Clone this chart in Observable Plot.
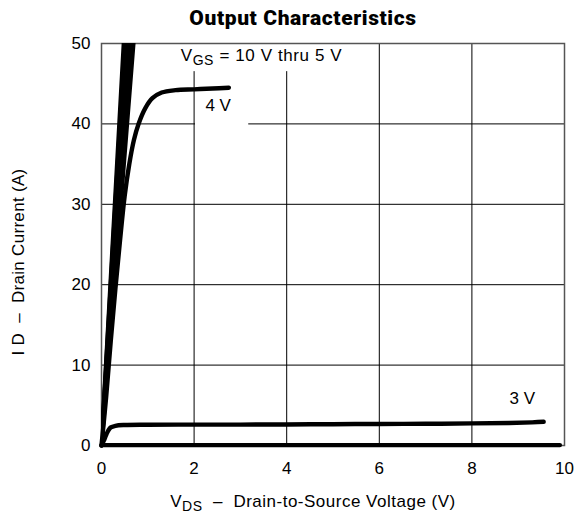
<!DOCTYPE html>
<html><head>
<meta charset="utf-8">
<script src="https://cdn.jsdelivr.net/npm/d3@7"></script>
<script src="https://cdn.jsdelivr.net/npm/@observablehq/plot@0.6"></script>
<style>
body{margin:0;background:#fff;}
#c svg{display:block;}
</style>
</head><body><div id="c"></div>
<script>
// Curves for VGS = 10 V ... 5 V (steep ohmic lines): drain voltage reached at ID = 50 A
const steepGates = ["10 V","9 V","8 V","7 V","6 V","5 V"];
const steepVAt50A = [0.48, 0.50, 0.53, 0.57, 0.62, 0.69];
const steepI = [0, 50];

// VGS = 4 V
const v4V = [0, 0.1, 0.2, 0.3, 0.4, 0.5, 0.6, 0.7, 0.8, 0.95, 1.1, 1.3, 1.6, 2.0, 2.4, 2.75];
const i4V = [0, 6, 13, 19.5, 25.5, 31, 35, 38, 40, 42, 43.2, 43.9, 44.2, 44.3, 44.4, 44.5];

// VGS = 3 V
const v3V = [0, 0.05, 0.1, 0.15, 0.2, 0.3, 0.5, 1, 2, 3, 4, 5, 6, 7, 8, 8.8, 9.3, 9.55];
const i3V = [0, 0.6, 1.3, 1.9, 2.25, 2.45, 2.55, 2.58, 2.6, 2.6, 2.62, 2.65, 2.68, 2.7, 2.75, 2.8, 2.88, 2.95];

// VGS below 3 V (essentially zero current)
const vLow = [0, 9.9];
const iLow = [0.05, 0.05];

const xTicks = [0, 2, 4, 6, 8, 10];
const yTicks = [0, 10, 20, 30, 40, 50];
const gridX = [2, 4, 6, 8];
const gridY = [10, 20, 30, 40];

// curve labels
const labelText = ["VGS = 10 V thru 5 V", "4 V", "3 V"];
const labelV = [1.71, 2.52, 9.09];
const labelI = [48.5, 42.3, 5.85];

// white boxes behind annotations (data coords)
const boxes = [
  {x1: 1.62, x2: 5.6, y1: 46.5, y2: 50},
  {x1: 2.03, x2: 3.18, y1: 39.0, y2: 43.6}
];

const steepRows = [];
steepGates.forEach((g, k) => {
  steepRows.push({curve: g, v: 0, i: steepI[0]});
  steepRows.push({curve: g, v: steepVAt50A[k], i: steepI[1]});
});
const rows = [];
v4V.forEach((v, k) => rows.push({curve: "4 V", v, i: i4V[k]}));
v3V.forEach((v, k) => rows.push({curve: "3 V", v, i: i3V[k]}));
vLow.forEach((v, k) => rows.push({curve: "low", v, i: iLow[k]}));

const labels = labelText.map((t, k) => ({t, v: labelV[k], i: labelI[k]}));

const font = "'Liberation Sans', Arial, sans-serif";

const chart = Plot.plot({
  width: 576,
  height: 521,
  marginTop: 43,
  marginBottom: 76,
  marginLeft: 101,
  marginRight: 12,
  style: {fontFamily: font, fontSize: "16px", color: "#000", background: "#fff", overflow: "visible"},
  x: {domain: [0, 10]},
  y: {domain: [0, 50]},
  marks: [
    Plot.gridX(gridX, {stroke: "#000", strokeOpacity: 1, strokeWidth: 1}),
    Plot.gridY(gridY, {stroke: "#000", strokeOpacity: 1, strokeWidth: 1}),
    Plot.rect(boxes, {x1: "x1", x2: "x2", y1: "y1", y2: "y2", fill: "#fff"}),
    Plot.frame({stroke: "#555", strokeWidth: 1.5}),
    Plot.line(steepRows, {x: "v", y: "i", z: "curve", stroke: "#000", strokeWidth: 4.2, clip: true}),
    Plot.line(rows, {x: "v", y: "i", z: "curve", stroke: "#000", strokeWidth: 4.4, curve: "catmull-rom"}),
    Plot.text(labels.slice(0, 1), {x: "v", y: "i", text: "t", textAnchor: "start", fontSize: 17, fill: "#000"}),
    Plot.text(labels.slice(1), {x: "v", y: "i", text: "t", textAnchor: "middle", fontSize: 17, fill: "#000"}),
    Plot.axisX({ticks: xTicks, tickSize: 0, tickPadding: 16, label: null, fontSize: 17}),
    Plot.axisY({ticks: yTicks, tickSize: 0, tickPadding: 11, label: null, fontSize: 17})
  ]
});

document.getElementById("c").appendChild(chart);
const svg = d3.select(chart);

// subscript for the VGS annotation
svg.selectAll("text").each(function() {
  const el = d3.select(this);
  if (el.text() === "VGS = 10 V thru 5 V") {
    el.text(null);
    el.attr("letter-spacing", "0.6");
    el.append("tspan").text("V");
    el.append("tspan").attr("dy", "4").attr("font-size", "14").text("GS");
    el.append("tspan").attr("dy", "-4").text(" = 10 V thru 5 V");
  }
});

// title
svg.append("text")
  .attr("x", 303).attr("y", 25)
  .attr("text-anchor", "middle")
  .attr("font-family", "Roboto, 'Liberation Sans', Arial, sans-serif")
  .attr("font-weight", 900)
  .attr("font-size", 21)
  .attr("letter-spacing", "0.6")
  .attr("fill", "#000")
  .text("Output Characteristics");

// x axis label
const xl = svg.append("text")
  .attr("x", 313).attr("y", 507)
  .attr("text-anchor", "middle")
  .attr("font-family", font).attr("font-size", 17).attr("fill", "#000")
  .attr("letter-spacing", "0.5")
  .attr("xml:space", "preserve");
xl.append("tspan").text("V");
xl.append("tspan").attr("dy", "4").attr("font-size", "14").text("DS");
xl.append("tspan").attr("dy", "-4").text("  \u2013  Drain-to-Source Voltage (V)");

// y axis label
svg.append("text")
  .attr("transform", "translate(24,262) rotate(-90)")
  .attr("text-anchor", "middle")
  .attr("font-family", font).attr("font-size", 17).attr("fill", "#000")
  .attr("letter-spacing", "0.3")
  .attr("xml:space", "preserve")
  .text("I D  \u2013  Drain Current (A)");
</script>
</body></html>
